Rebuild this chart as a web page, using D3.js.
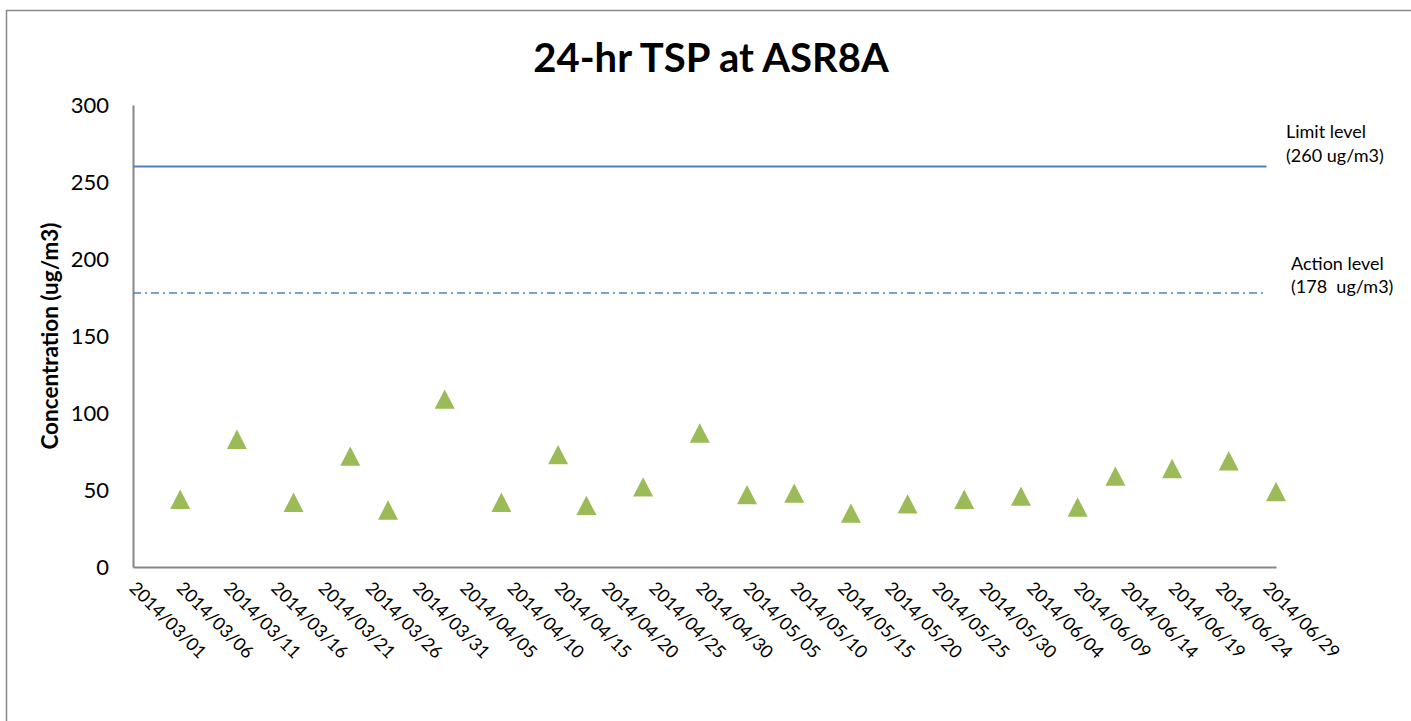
<!DOCTYPE html>
<html>
<head>
<meta charset="utf-8">
<script src="https://cdn.jsdelivr.net/npm/d3@7/dist/d3.min.js"></script>
<style>
  html, body { margin: 0; padding: 0; background: #fff; }
  svg { display: block; }
  text { font-family: Lato, "Open Sans", sans-serif; fill: #000; }
</style>
</head>
<body>
<svg id="chart" width="1411" height="721"></svg>
<script>
// 24-hr TSP sampling results at ASR8A
const sampleDates = ["2014/03/06", "2014/03/12", "2014/03/18", "2014/03/24", "2014/03/28",
  "2014/04/03", "2014/04/09", "2014/04/15", "2014/04/18", "2014/04/24", "2014/04/30",
  "2014/05/05", "2014/05/10", "2014/05/16", "2014/05/22", "2014/05/28",
  "2014/06/03", "2014/06/09", "2014/06/13", "2014/06/19", "2014/06/25", "2014/06/30"];
const tspValues = [44, 83, 42, 72, 37, 109, 42, 73, 40, 52, 87, 47, 48, 35, 41, 44, 46, 39, 59, 64, 69, 49];

// Reference levels (ug/m3)
const limitLevel = 260;
const actionLevel = 178;
const levelSpan = ["2014/03/01", "2014/06/29"];

// Axis ticks
const xTickLabels = ["2014/03/01", "2014/03/06", "2014/03/11", "2014/03/16", "2014/03/21",
  "2014/03/26", "2014/03/31", "2014/04/05", "2014/04/10", "2014/04/15", "2014/04/20",
  "2014/04/25", "2014/04/30", "2014/05/05", "2014/05/10", "2014/05/15", "2014/05/20",
  "2014/05/25", "2014/05/30", "2014/06/04", "2014/06/09", "2014/06/14", "2014/06/19",
  "2014/06/24", "2014/06/29"];
const yTickValues = [0, 50, 100, 150, 200, 250, 300];
const xDomain = ["2014/03/01", "2014/06/30"];

const parse = d3.utcParse("%Y/%m/%d");
const fmt = d3.utcFormat("%Y/%m/%d");

const svg = d3.select("#chart");
const W = 1411, H = 721;
const plot = { left: 133, right: 1276, top: 105, bottom: 567 };

// chart area frame
svg.append("rect")
  .attr("x", 6.5).attr("y", 10.5)
  .attr("width", W + 20).attr("height", H + 20)
  .attr("fill", "#fff")
  .attr("stroke", "#898989").attr("stroke-width", 1.5);

const x = d3.scaleUtc().domain(xDomain.map(parse)).range([plot.left, plot.right]);
const y = d3.scaleLinear().domain([0, 300]).range([plot.bottom, plot.top]);

// title
svg.append("text")
  .attr("x", 711).attr("y", 72)
  .attr("text-anchor", "middle")
  .style("font-weight", "bold").style("font-size", "40px")
  .text("24-hr TSP at ASR8A");

// y axis
const yAxis = svg.append("g")
  .attr("transform", `translate(${plot.left},0)`)
  .call(d3.axisLeft(y).tickValues(yTickValues).tickSize(0).tickPadding(24).tickFormat(d3.format("d")));
yAxis.select(".domain").attr("stroke", "#868686").attr("stroke-width", 2);
yAxis.selectAll("text").style("font-size", "22px").style("font-family", "Lato, sans-serif").attr("fill", "#000");

// y axis title
svg.append("text")
  .attr("transform", `translate(58,336) rotate(-90)`)
  .attr("text-anchor", "middle")
  .style("font-weight", "bold").style("font-size", "22.5px")
  .text("Concentration (ug/m3)");

// x axis
const xAxis = svg.append("g")
  .attr("transform", `translate(0,${plot.bottom})`)
  .call(d3.axisBottom(x).tickValues(xTickLabels.map(parse)).tickSize(0).tickSizeOuter(0).tickFormat(fmt));
xAxis.select(".domain").attr("stroke", "#868686").attr("stroke-width", 2);
xAxis.selectAll(".tick text")
  .style("font-size", "18px").style("font-family", "Lato, sans-serif")
  .attr("fill", "#000")
  .attr("text-anchor", "start")
  .attr("x", 0).attr("y", 0).attr("dy", "0.72em")
  .attr("transform", "translate(4,13) rotate(45)");

// level lines
const levelLine = d3.line().x(d => x(d[0])).y(d => y(d[1]));
svg.append("path")
  .datum(levelSpan.map(d => [parse(d), limitLevel]))
  .attr("d", levelLine)
  .attr("fill", "none").attr("stroke", "#4F81BD").attr("stroke-width", 2);
svg.append("path")
  .datum(levelSpan.map(d => [parse(d), actionLevel]))
  .attr("d", levelLine)
  .attr("fill", "none").attr("stroke", "#4F81BD").attr("stroke-width", 1.5)
  .attr("stroke-dasharray", "8,4,2,4");

// level annotations
const note = svg.append("g").style("font-size", "18px");
note.append("text").attr("x", 1286).attr("y", y(limitLevel) - 29).text("Limit level");
note.append("text").attr("x", 1286).attr("y", y(limitLevel) - 5).text("(260 ug/m3)");
note.append("text").attr("x", 1291).attr("y", y(actionLevel) - 23).text("Action level");
note.append("text").attr("x", 1291).attr("y", y(actionLevel)).attr("xml:space", "preserve")
  .style("white-space", "pre").text("(178  ug/m3)");

// triangle markers
const tri = {
  draw(ctx, size) {
    const w = Math.sqrt(size), h = w * 0.97;
    ctx.moveTo(0, -h / 2);
    ctx.lineTo(w / 2, h / 2);
    ctx.lineTo(-w / 2, h / 2);
    ctx.closePath();
  }
};
const marker = d3.symbol().type(tri).size(400);
svg.append("g").selectAll("path")
  .data(sampleDates.map((d, i) => ({ date: parse(d), value: tspValues[i] })))
  .join("path")
  .attr("transform", d => `translate(${x(d.date)},${y(d.value)})`)
  .attr("d", marker)
  .attr("fill", "#9BBB59");
</script>
</body>
</html>
